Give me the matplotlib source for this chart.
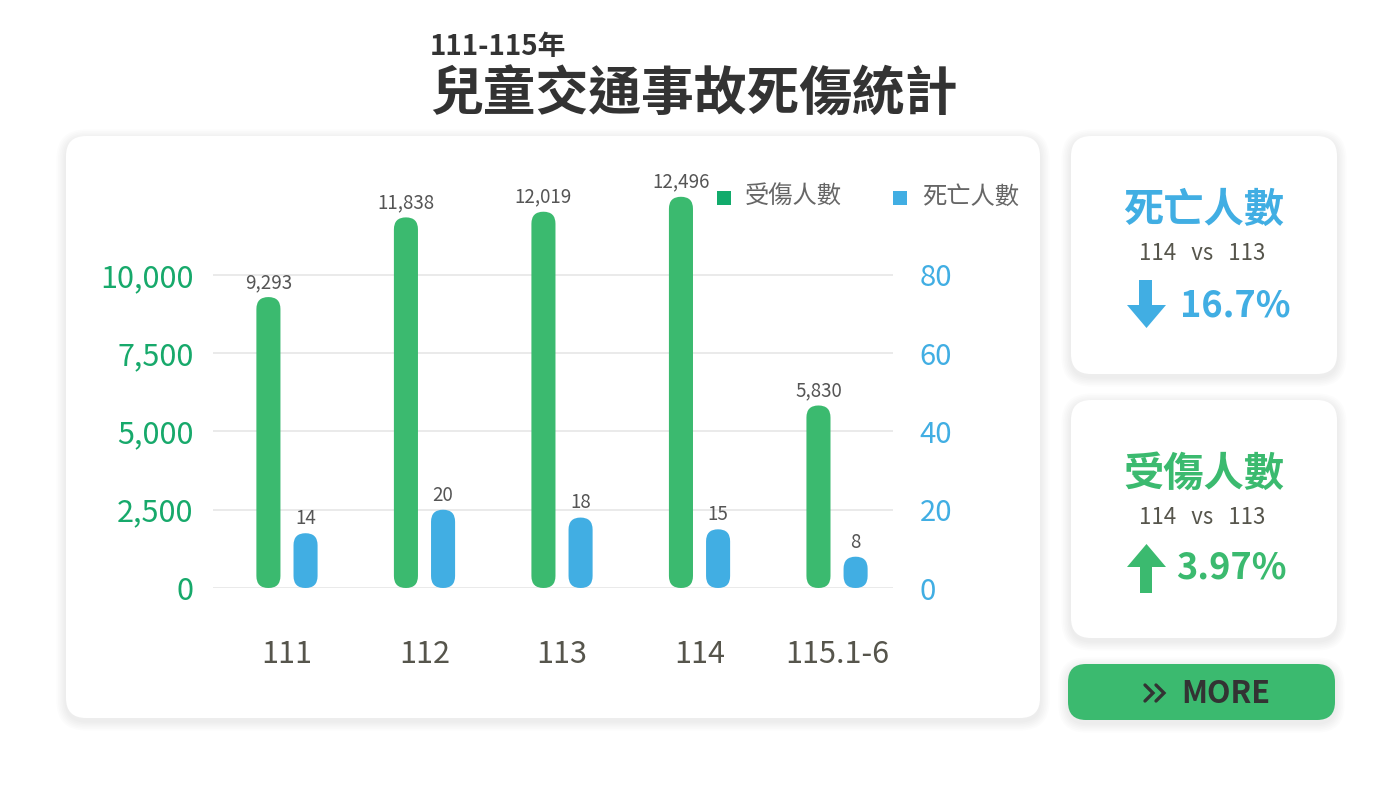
import matplotlib
matplotlib.use('Agg')
import matplotlib.pyplot as plt
from matplotlib.patches import FancyBboxPatch, Rectangle, Polygon
from matplotlib.ticker import FuncFormatter

plt.rcParams['font.family'] = ['Noto Sans CJK TC', 'DejaVu Sans']

# data
years = ['111', '112', '113', '114', '115.1-6']
injured = [9293, 11838, 12019, 12496, 5830]
deaths = [14, 20, 18, 15, 8]
left_ticks = [0, 2500, 5000, 7500, 10000]
right_ticks = [0, 20, 40, 60, 80]
legend_labels = ['受傷人數', '死亡人數']
death_change = '16.7%'
injured_change = '3.97%'
compare_label = '114   vs   113'

GREEN = '#3bba6f'
GREEN_TXT = '#17a96b'
BLUE = '#41aee3'
DARK = '#333333'
GREY = '#56554c'

W, H = 1400, 790
fig = plt.figure(figsize=(14, 7.9), dpi=100)
fig.patch.set_facecolor('white')

# background axes in pixel units (y down)
bg = fig.add_axes([0, 0, 1, 1], zorder=0)
bg.set_xlim(0, W)
bg.set_ylim(H, 0)
bg.axis('off')


def card(x0, y0, x1, y1, r=20, color='white'):
    # soft shadow
    for k in range(1, 7):
        s = k * 1.6
        bg.add_patch(FancyBboxPatch((x0 - s, y0 - s + 3), x1 - x0 + 2 * s, y1 - y0 + 2 * s,
                                    boxstyle=f'round,pad=0,rounding_size={r + s}',
                                    fc='black', ec='none', alpha=0.013))
    bg.add_patch(FancyBboxPatch((x0, y0), x1 - x0, y1 - y0,
                                boxstyle=f'round,pad=0,rounding_size={r}',
                                fc=color, ec='none'))


card(66, 136, 1040, 718)
card(1071, 136, 1337, 374)
card(1071, 400, 1337, 638)
card(1068, 664, 1335, 720, r=18, color=GREEN)

# titles
bg.text(430, 47, '111-115年', fontsize=20, fontweight='bold', color=DARK, va='center', ha='left')
bg.text(430, 95, '兒童交通事故死傷統計', fontsize=38, fontweight='bold', color=DARK,
        va='center', ha='left')

# legend
bg.add_patch(Rectangle((717, 191), 14, 14, fc='#12ab6c', ec='none'))
bg.text(745, 197, legend_labels[0], fontsize=17.5, color='#666666', va='center', ha='left')
bg.add_patch(Rectangle((893, 191), 14, 14, fc=BLUE, ec='none'))
bg.text(922, 197, legend_labels[1], fontsize=17.5, color='#666666', va='center', ha='left')

# side card 1: deaths
bg.text(1204, 210, legend_labels[1], fontsize=29, fontweight='bold', color=BLUE, va='center', ha='center')
bg.text(1202, 254, compare_label, fontsize=16, color=GREY, va='center', ha='center')
bg.add_patch(Polygon([(1139, 280), (1152, 280), (1152, 305), (1166, 305), (1146.5, 328),
                      (1127, 305), (1139, 305)], closed=True, fc=BLUE, ec='none'))
bg.text(1180, 306, death_change, fontsize=26, fontweight='bold', color=BLUE, va='center', ha='left')

# side card 2: injured
bg.text(1204, 474, legend_labels[0], fontsize=29, fontweight='bold', color=GREEN, va='center', ha='center')
bg.text(1202, 518, compare_label, fontsize=16, color=GREY, va='center', ha='center')
bg.add_patch(Polygon([(1146.5, 544), (1166, 567), (1152, 567), (1152, 593), (1140, 593),
                      (1140, 567), (1127, 567)], closed=True, fc=GREEN, ec='none'))
bg.text(1176, 568, injured_change, fontsize=26, fontweight='bold', color=GREEN, va='center', ha='left')

# MORE button
for cx in (1145, 1156):
    bg.plot([cx, cx + 8, cx], [685, 693, 701], color=DARK, lw=2.4, solid_capstyle='round',
            solid_joinstyle='miter')
bg.text(1181, 694, 'MORE', fontsize=22, fontweight='bold', color=DARK, va='center', ha='left')

# chart axes
ax = fig.add_axes([213 / W, (H - 588) / H, (893 - 213) / W, (588 - 181) / H], zorder=1)
ax.set_xlim(-0.538, 4.407)
ax.set_ylim(0, 13000)
ax2 = ax.twinx()
ax2.set_ylim(0, 104)
for a in (ax, ax2):
    a.patch.set_visible(False)
    for s in a.spines.values():
        s.set_visible(False)

ax.set_yticks(left_ticks)
ax.yaxis.set_major_formatter(FuncFormatter(lambda v, p: f'{int(v):,}'))
ax.grid(axis='y', color='#e8e8e8', lw=1.3)
ax.set_axisbelow(True)
ax.tick_params(axis='y', length=0, pad=14, labelsize=22, labelcolor=GREEN_TXT)
ax2.set_yticks(right_ticks)
ax2.tick_params(axis='y', length=0, pad=19, labelsize=21, labelcolor=BLUE)

xs = list(range(len(years)))
ax.set_xticks(xs)
ax.set_xticklabels(years)
ax.tick_params(axis='x', length=0, pad=37, labelsize=22, labelcolor=GREY)

offset = 0.135
width = 0.175


def round_bars(axis, positions, vals, color, r_px=12):
    p0 = axis.transData.transform((0, 0))
    p1 = axis.transData.transform((1, 1))
    sx = p1[0] - p0[0]
    sy = p1[1] - p0[1]
    for x, v in zip(positions, vals):
        axis.add_patch(FancyBboxPatch((x - width / 2, 0), width, v,
                                      boxstyle=f'round,pad=0,rounding_size={r_px / sx}',
                                      mutation_aspect=sx / sy, fc=color, ec='none'))
        axis.annotate(f'{v:,}', (x, v), xytext=(0, 3), textcoords='offset points',
                      ha='center', va='bottom', fontsize=13.5, color='#555555')


round_bars(ax, [x - offset for x in xs], injured, GREEN)
round_bars(ax2, [x + offset for x in xs], deaths, BLUE)

fig.savefig('out.png', dpi=100)
